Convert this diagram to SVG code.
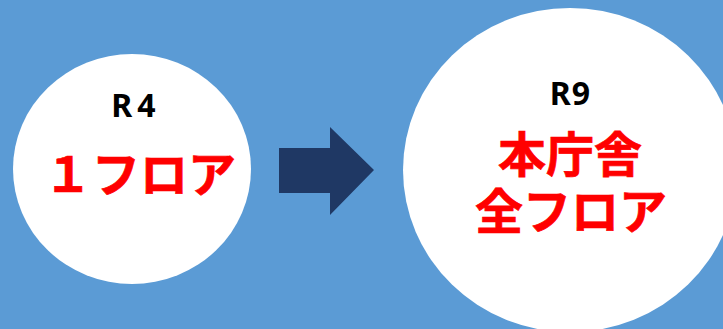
<svg xmlns="http://www.w3.org/2000/svg" width="723" height="329" viewBox="0 0 723 329">
<style>
.h{font-family:"Noto Sans","Noto Sans CJK JP",sans-serif;font-weight:700;font-size:32px;fill:#000}
.r{font-family:"Noto Sans CJK JP",sans-serif;font-weight:700;font-size:48px;fill:#f00;stroke:#f00;stroke-width:.7px}
.c{fill:#fff}
</style>
<rect width="723" height="329" fill="#5b9bd5"/>
<g id="left"><ellipse class="c" cx="132" cy="169" rx="119" ry="115"/>
<text class="h" x="136" y="117" text-anchor="middle" letter-spacing="5">R4</text>
<text class="r" x="140" y="192" text-anchor="middle">１フロア</text></g>
<g id="arrow"><polygon points="279,148 330,148 330,127 374,170 330,215 330,193 279,193" fill="#1f3864"/></g>
<g id="right"><ellipse class="c" cx="570" cy="170" rx="167" ry="162"/>
<text class="h" x="570.5" y="105" text-anchor="middle" letter-spacing="1">R9</text>
<text class="r" text-anchor="middle"><tspan x="570" y="172">本庁舎</tspan><tspan x="571" y="229">全フロア</tspan></text></g>
</svg>
